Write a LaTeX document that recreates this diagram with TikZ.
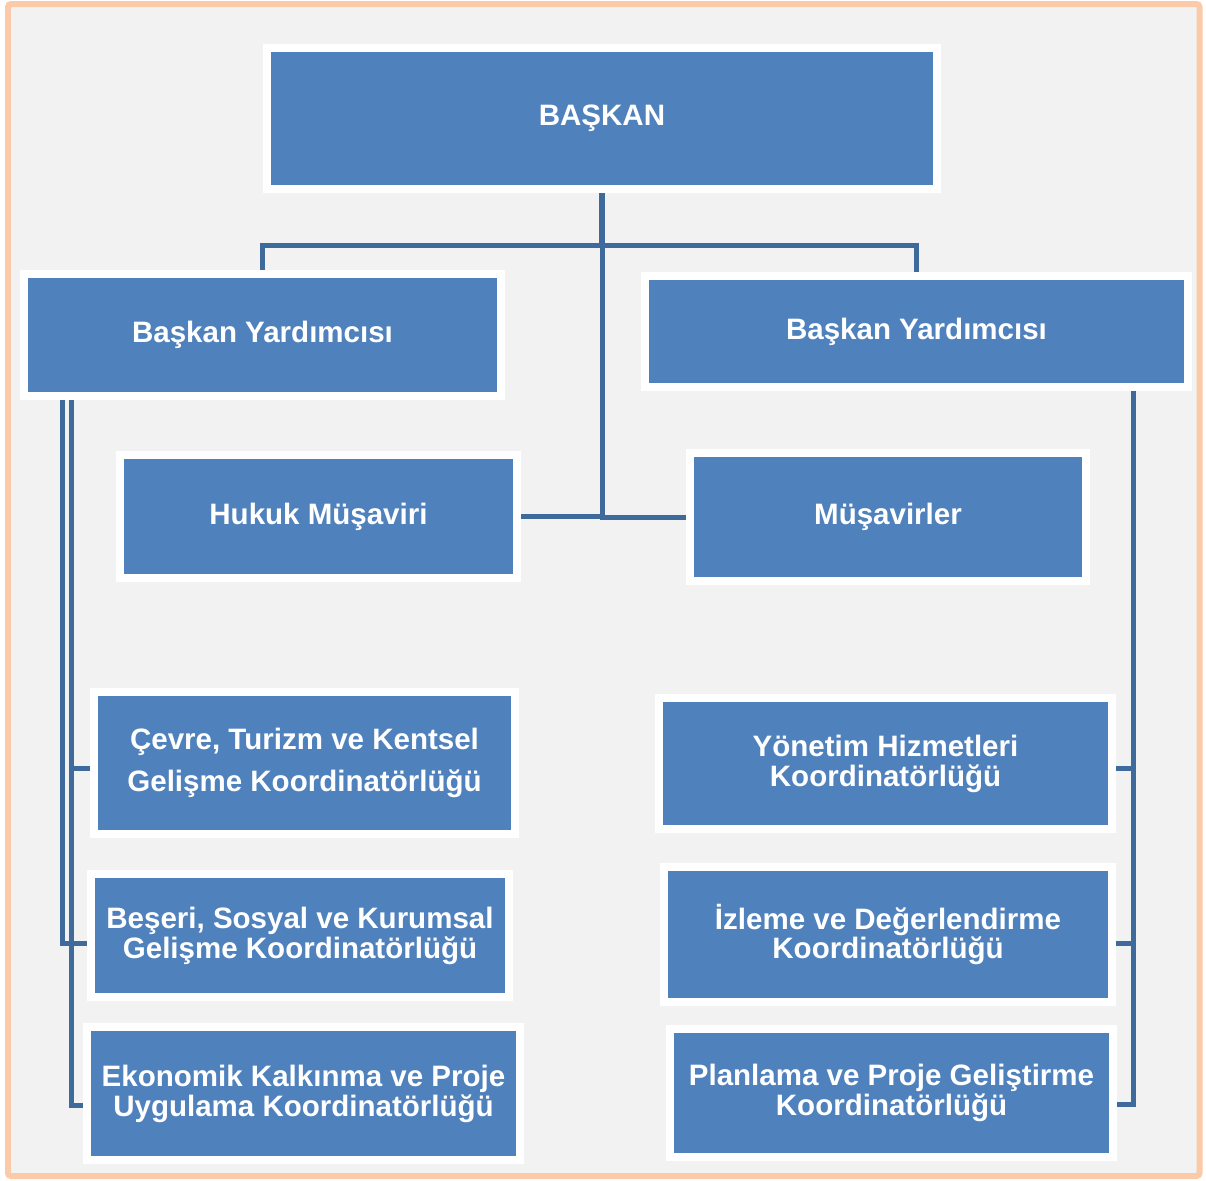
\documentclass[tikz,border=0pt]{standalone}
\usepackage{fontspec}
\setmainfont{Liberation Sans}
\usetikzlibrary{shadows,backgrounds}
\definecolor{boxblue}{HTML}{4F81BD}
\definecolor{linkblue}{HTML}{3E6A9C}
\definecolor{framepeach}{HTML}{FBCAA8}
\definecolor{paper}{HTML}{F2F2F2}
\tikzset{
	unit/.style={fill=boxblue, draw=white, line width=0.16cm, text=white,
		font=\bfseries\fontsize{16.8}{17}\selectfont, align=center, inner sep=0pt,
		drop shadow={shadow xshift=0.05cm, shadow yshift=-0.07cm, opacity=0.4, fill=black!40}},
	link/.style={draw=linkblue, line width=0.1cm}
}
\begin{document}
\begin{tikzpicture}[x=0.02cm,y=-0.02cm]
		\useasboundingbox (0,0) rectangle (1206,1180);
		\begin{scope}[on background layer]
		\draw[framepeach, line width=0.12cm, fill=paper, rounded corners=0.06cm] (8,4) rectangle (1199.5,1176);
		\end{scope}
		
		% top
		\node[unit, minimum width=13.4cm, minimum height=2.82cm] (baskan) at (602,118.5) {BAŞKAN};
		\node[unit, minimum width=9.54cm, minimum height=2.44cm] (lby) at (262.5,335) {Başkan Yardımcısı};
		\node[unit, minimum width=10.86cm, minimum height=2.22cm] (rby) at (916.5,331.5) {Başkan Yardımcısı};
		\node[unit, minimum width=7.94cm, minimum height=2.46cm] (hukuk) at (318.5,516.5) {Hukuk Müşaviri};
		\node[unit, minimum width=7.92cm, minimum height=2.56cm] (musavir) at (888,517) {Müşavirler};
		
		% left column
		\node[unit, minimum width=8.42cm, minimum height=2.84cm] (cevre) at (304.5,763) {Çevre, Turizm ve Kentsel\\[6.9pt]Gelişme Koordinatörlüğü};
		\node[unit, minimum width=8.36cm, minimum height=2.46cm] (beseri) at (300,935.5) {Beşeri, Sosyal ve Kurumsal\\Gelişme Koordinatörlüğü};
		\node[unit, minimum width=8.66cm, minimum height=2.66cm] (ekonomik) at (303.5,1093.5) {Ekonomik Kalkınma ve Proje\\Uygulama Koordinatörlüğü};
		
		% right column
		\node[unit, minimum width=9.06cm, minimum height=2.62cm] (yonetim) at (885.5,763.5) {Yönetim Hizmetleri\\Koordinatörlüğü};
		\node[unit, minimum width=8.96cm, minimum height=2.70cm] (izleme) at (888,934.5) {İzleme ve Değerlendirme\\Koordinatörlüğü};
		\node[unit, minimum width=8.86cm, minimum height=2.56cm] (planlama) at (891.5,1093) {Planlama ve Proje Geliştirme\\Koordinatörlüğü};
		
		\coordinate (hub) at (602,245);
		\coordinate (lleft) at (62,396); \coordinate (lmid) at (71,396);
		\coordinate (rright) at (1133,387);
		
		\begin{scope}[on background layer]
		\draw[link, line width=0.13cm] (baskan.south) -- (hub);
		\draw[link] (lby.north) |- (hub) -| (rby.north);
		\draw[link] (hub) |- (hukuk.east);
		\draw[link] (hub) |- (musavir.west);
		
		\draw[link] (lmid) |- ([yshift=-0.1cm]cevre.west);
		\draw[link] (lleft) |- ([yshift=-0.15cm]beseri.west);
		\draw[link] (lmid) |- ([yshift=-0.23cm]ekonomik.west);
		
		\draw[link] (rright) |- ([yshift=-0.09cm]yonetim.east);
		\draw[link] (rright) |- ([yshift=-0.17cm]izleme.east);
		\draw[link] (rright) |- ([yshift=-0.22cm]planlama.east);
		\end{scope}
\end{tikzpicture}
\end{document}
